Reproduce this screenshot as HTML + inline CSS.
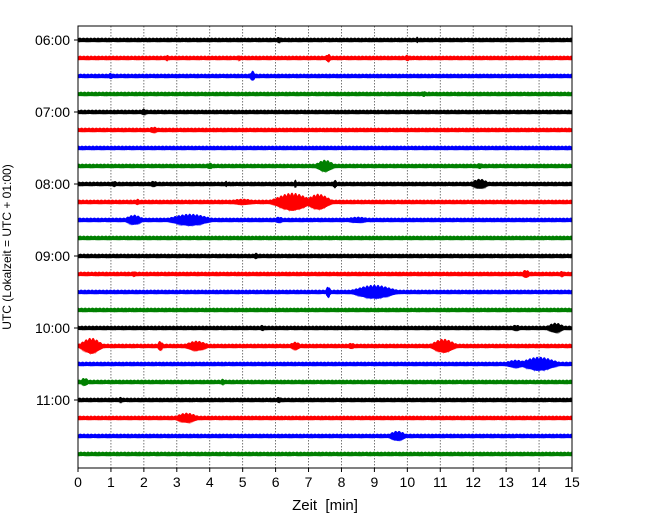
<!DOCTYPE html>
<html><head><meta charset="utf-8"><style>
body{margin:0;background:#fff}
svg{font-family:"Liberation Sans","DejaVu Sans",sans-serif}
</style></head><body>
<svg id="c" width="650" height="520">
</svg>
<script>
const colors=["#000000","#ff0000","#0000ff","#008000"];
const xTicks=[0,1,2,3,4,5,6,7,8,9,10,11,12,13,14,15];
const yTickLabels=["06:00","07:00","08:00","09:00","10:00","11:00"];
const baseAmp=[2,2,2,2,2,2,2,2,2,2,2,2,2,2,2,2,2,2,2,2,2,2,2,2];
// events per trace: [minute, half amplitude (data units), half width (minutes)]
const events=[
 [[6.1,3,0.1],[10.3,3,0.05]],
 [[2.7,3,0.08],[4.9,3,0.05],[7.6,4,0.1],[10.0,3,0.1]],
 [[5.3,5,0.1],[1.0,3,0.1]],
 [[10.5,3,0.08]],
 [[2.0,3,0.15],[13.5,2,0.1]],
 [[2.3,3,0.2],[4.5,2,0.1]],
 [[9.4,2,0.1]],
 [[7.5,6,0.3],[4.0,3,0.15],[12.2,3,0.1]],
 [[4.5,3,0.05],[6.6,4,0.05],[7.8,4,0.08],[12.2,5,0.3],[1.1,3,0.1],[2.3,3,0.15]],
 [[6.5,9,0.6],[7.3,8,0.4],[1.8,3,0.1],[5.0,3,0.5]],
 [[1.7,5,0.3],[3.4,6,0.7],[6.1,3,0.2],[8.5,3,0.5]],
 [],
 [[5.4,3,0.1]],
 [[1.7,3,0.08],[4.5,2,0.08],[13.6,4,0.15],[14.7,3,0.1]],
 [[7.6,6,0.08],[9.0,7,0.7]],
 [],
 [[5.6,3,0.1],[13.3,3,0.2],[14.5,5,0.3]],
 [[0.4,8,0.35],[2.5,5,0.1],[3.6,5,0.4],[6.6,4,0.2],[11.1,7,0.4],[8.3,3,0.15]],
 [[14.0,7,0.6],[13.3,4,0.4]],
 [[0.2,4,0.15],[4.4,3,0.1]],
 [[1.3,3,0.08],[6.1,3,0.1]],
 [[3.3,5,0.4]],
 [[9.7,5,0.3]],
 [[6.3,2,0.2]]
];
const NS="http://www.w3.org/2000/svg";
const svg=document.getElementById('c');
const L=78,R=572,T=26,B=468,y0=40,dy=18;
const xs=m=>L+(m/15)*(R-L);
const ys=i=>y0+i*dy;
function mk(t,a){const e=document.createElementNS(NS,t);for(const k in a)e.setAttribute(k,a[k]);svg.appendChild(e);return e;}
xTicks.forEach(t=>{
 if(t>0&&t<15){const g=mk('line',{x1:xs(t),x2:xs(t),y1:T,y2:B,stroke:'#555','stroke-width':0.8,'stroke-dasharray':'1.5,1.5'});
 
 }
 const tk=mk('line',{x1:xs(t),x2:xs(t),y1:B,y2:B+4,stroke:'#000','stroke-width':1});
 
 
 const tl=mk('text',{x:xs(t),y:B+19,'text-anchor':'middle','font-size':14});tl.textContent=t;
 
 
});
events.forEach((ev,i)=>{
 const N=1000,top=[],bot=[];
 for(let k=0;k<=N;k++){
  const m=15*k/N;let a=baseAmp[i];
  ev.forEach(e=>{const d=(m-e[0])/e[2];a=Math.max(a,e[1]*Math.exp(-Math.abs(d)*d*1.2*Math.sign(d)));});
  // visual texture only (not data)
  const j1=0.6+0.4*Math.abs(Math.sin(k*12.9898+i*78.233));
  const j2=0.6+0.4*Math.abs(Math.sin(k*39.3468+i*11.135));
  top.push(xs(m).toFixed(1)+','+(ys(i)-a*j1).toFixed(1));
  bot.unshift(xs(m).toFixed(1)+','+(ys(i)+a*j2).toFixed(1));
 }
 const p=mk('polygon',{points:top.concat(bot).join(' '),fill:colors[i%4],stroke:colors[i%4],'stroke-width':0.7});
 
 
});
yTickLabels.forEach((s,j)=>{
 const y=ys(j*4);
 const tk=mk('line',{x1:L-4,x2:L,y1:y,y2:y,stroke:'#000'});
 
 
 const t=mk('text',{x:L-8,y:y+5,'text-anchor':'end','font-size':14});t.textContent=s;
 
 
});
const fr=mk('rect',{x:L,y:T,width:R-L,height:B-T,fill:'none',stroke:'#000','stroke-width':1});


const xt=mk('text',{x:(L+R)/2,y:510,'text-anchor':'middle','font-size':15});xt.textContent='Zeit  [min]';


xt.style.whiteSpace='pre';
const yt=mk('text',{x:0,y:0,'text-anchor':'middle','font-size':12,transform:'translate(11,247) rotate(-90)'});yt.textContent='UTC (Lokalzeit = UTC + 01:00)';


</script>
</body></html>
